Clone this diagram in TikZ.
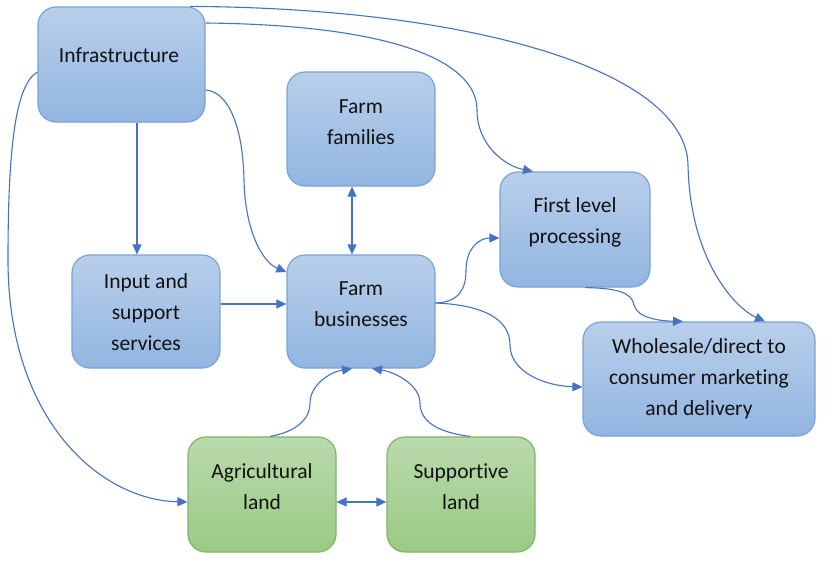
\documentclass[tikz,border=0pt]{standalone}
\usepackage{fontspec}
\setmainfont{Carlito}[Ligatures=NoCommon]
\usetikzlibrary{arrows.meta}
\definecolor{bluetop}{HTML}{B8CFEB}
\definecolor{bluebot}{HTML}{92B5E0}
\definecolor{blueedge}{HTML}{7AA3D7}
\definecolor{greentop}{HTML}{BADAAC}
\definecolor{greenbot}{HTML}{9ACA84}
\definecolor{greenedge}{HTML}{80B568}
\definecolor{conn}{HTML}{4472C4}
\definecolor{txtcol}{HTML}{111111}
\begin{document}
\begin{tikzpicture}[x=1pt,y=-1pt,
  box/.style={rounded corners=18pt, line width=1.2pt, inner sep=0pt},
  bluebox/.style={box, draw=blueedge, top color=bluetop, bottom color=bluebot},
  greenbox/.style={box, draw=greenedge, top color=greentop, bottom color=greenbot},
  txt/.style={align=center, inner sep=0pt, text=txtcol, font=\fontsize{21.5}{31}\selectfont},
  arr/.style={draw=conn, line width=1.1pt, -{Triangle[length=10pt,width=9pt]}},
  darr/.style={draw=conn, line width=1.1pt, {Triangle[length=10pt,width=9pt]}-{Triangle[length=10pt,width=9pt]}},
  curve/.style={draw=conn, line width=1.1pt, -{Triangle[length=10pt,width=9pt]}}
]
\useasboundingbox (0,0) rectangle (835,570);
\fill[white] (0,0) rectangle (835,570);

% boxes
\node[bluebox, minimum width=167pt, minimum height=115pt] (infra) at (121.5,64.5) {};
\node[bluebox, minimum width=148pt, minimum height=114pt] (fam) at (361,129) {};
\node[bluebox, minimum width=150pt, minimum height=115pt] (flp) at (575,229.5) {};
\node[bluebox, minimum width=148pt, minimum height=113pt] (inp) at (146,311.5) {};
\node[bluebox, minimum width=148pt, minimum height=113pt] (fb) at (361,311.5) {};
\node[bluebox, minimum width=232pt, minimum height=114pt] (whole) at (699,379) {};
\node[greenbox, minimum width=148pt, minimum height=115pt] (agri) at (262,494.5) {};
\node[greenbox, minimum width=148pt, minimum height=115pt] (supp) at (461,494.5) {};

% texts
\node[txt] (infra-t) at (119,55) {Infrastructure};
\node[txt] (fam-t) at (361,122.5) {Farm\\families};
\node[txt] (flp-t) at (575,222.5) {First level\\processing};
\node[txt] (inp-t) at (146,312) {Input and\\support\\services};
\node[txt] (fb-t) at (361,304.5) {Farm\\businesses};
\node[txt] (whole-t) at (699,378.5) {Wholesale/direct to\\consumer marketing\\and delivery};
\node[txt] (agri-t) at (262,486.5) {Agricultural\\land};
\node[txt] (supp-t) at (461,486.5) {Suppor\kern0pt tive\\land};

% connectors
\draw[arr] ([xshift=15.5pt]infra.south) -- ([xshift=-9pt]inp.north);
\draw[arr] ([yshift=7.5pt]inp.east) -- ([yshift=7.5pt]fb.west);
\draw[darr] ([xshift=-9pt]fam.south) -- ([xshift=-9pt]fb.north);
\draw[darr] ([yshift=-7.5pt]agri.east) -- ([yshift=-7.5pt]supp.west);

% infra -> farm businesses
\draw[curve] ([yshift=-25.5pt]infra.east) .. controls (230,92) and (243,130) .. (244,180)
  .. controls (245,230) and (262,262) .. ([yshift=39.5pt]fb.west);
% infra -> first level processing
\draw[curve] ([yshift=41.5pt]infra.east) .. controls (390,25) and (477,60) .. (477,110)
  .. controls (477,145) and (505,166) .. ([xshift=-42pt]flp.north);
% infra -> wholesale
\draw[curve] ([xshift=68.5pt]infra.north) .. controls (470,8) and (686,70) .. (688,165)
  .. controls (690,260) and (735,308) .. ([xshift=66pt]whole.north);
% infra -> agricultural land
\draw[curve] ([yshift=-7.5pt]infra.west) .. controls (15,85) and (8,150) .. (8,260)
  .. controls (8,420) and (100,500) .. ([yshift=-7.5pt]agri.west);
% farm businesses -> first level processing
\draw[curve] ([yshift=8.5pt]fb.east) .. controls (460,302) and (466,288) .. (466,270)
  .. controls (466,250) and (478,238) .. ([yshift=-8.5pt]flp.west);
% farm businesses -> wholesale
\draw[curve] ([yshift=8.5pt]fb.east) .. controls (485,305) and (510,320) .. (510,345)
  .. controls (510,372) and (545,386) .. ([yshift=-8pt]whole.west);
% first level -> wholesale
\draw[curve] ([xshift=10pt]flp.south) .. controls (615,288) and (632,292) .. (634,305)
  .. controls (637,318) and (660,321) .. ([xshift=-16pt]whole.north);
% agricultural land -> farm businesses
\draw[curve] ([xshift=8pt]agri.north) .. controls (295,432) and (310,420) .. (310,403)
  .. controls (310,385) and (330,372) .. ([xshift=-9pt]fb.south);
% supportive land -> farm businesses
\draw[curve] ([xshift=9pt]supp.north) .. controls (435,432) and (420,420) .. (420,403)
  .. controls (420,385) and (395,372) .. ([xshift=11pt]fb.south);
\end{tikzpicture}
\end{document}
